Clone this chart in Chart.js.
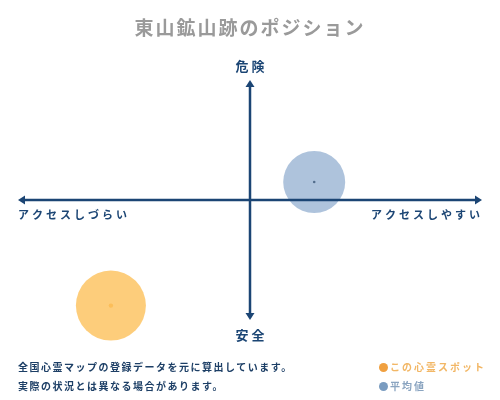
<!DOCTYPE html>
<html>
<head>
<meta charset="utf-8">
<script src="https://cdn.jsdelivr.net/npm/chart.js@4"></script>
<style>
  body { margin: 0; background: #fff; }
  #wrap { position: relative; width: 500px; height: 400px; font-family: "Noto Sans CJK JP", sans-serif; }
  #note { position: absolute; left: 18px; top: 357px; font-size: 10px; font-weight: bold; color: #1d3f66; line-height: 19px; letter-spacing: 1.5px; }
  #legend { position: absolute; left: 379px; top: 357px; font-size: 10px; font-weight: bold; line-height: 19px; letter-spacing: 2px; }
  #legend span.dot { display: inline-block; width: 9px; height: 9px; border-radius: 50%; vertical-align: -1px; margin-right: 2px; }
</style>
</head>
<body>
<div id="wrap">
  <canvas id="chart" width="500" height="400"></canvas>
  <div id="note">全国心霊マップの登録データを元に算出しています。<br>実際の状況とは異なる場合があります。</div>
  <div id="legend">
    <div style="color:#f2b766"><span class="dot" style="background:#f0a040"></span>この心霊スポット</div>
    <div style="color:#8aa4c0"><span class="dot" style="background:#7a9cc0"></span>平均値</div>
  </div>
</div>
<script>
var titleText = '東山鉱山跡のポジション';
var axisLabels = { top: '危 険', bottom: '安 全', left: 'アクセスしづらい', right: 'アクセスしやすい' };

// access (x) / danger (y), -100..100
var spotX = [-65];
var spotY = [-88];
var spotR = [35];
var avgX = [30];
var avgY = [15];
var avgR = [31];

var navy = '#1b4574';

var axisPlugin = {
  id: 'axisArrows',
  afterDatasetsDraw: function(chart) {
    var ctx = chart.ctx;
    var a = chart.chartArea;
    var cx = chart.scales.x.getPixelForValue(0);
    var cy = chart.scales.y.getPixelForValue(0);
    var l = a.left - 18, r = a.right + 18;
    ctx.save();
    ctx.strokeStyle = navy;
    ctx.fillStyle = navy;
    ctx.lineWidth = 2.5;
    ctx.beginPath();
    ctx.moveTo(l + 4, cy); ctx.lineTo(r - 4, cy);
    ctx.moveTo(cx, a.top + 4); ctx.lineTo(cx, a.bottom - 4);
    ctx.stroke();
    function tri(x1, y1, x2, y2, x3, y3) {
      ctx.beginPath(); ctx.moveTo(x1, y1); ctx.lineTo(x2, y2); ctx.lineTo(x3, y3); ctx.closePath(); ctx.fill();
    }
    tri(l, cy, l + 7, cy - 4.5, l + 7, cy + 4.5);
    tri(r, cy, r - 7, cy - 4.5, r - 7, cy + 4.5);
    tri(cx, a.top, cx - 4.5, a.top + 7, cx + 4.5, a.top + 7);
    tri(cx, a.bottom, cx - 4.5, a.bottom - 7, cx + 4.5, a.bottom - 7);

    ctx.textBaseline = 'middle';
    ctx.font = 'bold 13px "Noto Sans CJK JP"';
    ctx.textAlign = 'center';
    ctx.fillText(axisLabels.top, cx, a.top - 14);
    ctx.fillText(axisLabels.bottom, cx, a.bottom + 15);
    ctx.font = 'bold 11px "Noto Sans CJK JP"';
    ctx.letterSpacing = '3px';
    ctx.textAlign = 'left';
    ctx.fillText(axisLabels.left, l, cy + 15);
    ctx.textAlign = 'right';
    ctx.fillText(axisLabels.right, r + 1, cy + 15);
    ctx.letterSpacing = '2px';
    ctx.fillStyle = '#9a9a9a';
    ctx.textAlign = 'center';
    ctx.font = 'bold 19px "Noto Sans CJK JP"';
    ctx.fillText(titleText, 250, 28);
    ctx.restore();
  }
};

function pts(xs, ys, rs, dot) {
  return xs.map(function(x, i) { return { x: x, y: ys[i], r: rs ? rs[i] : dot }; });
}

var chart = new Chart(document.getElementById('chart'), {
  type: 'bubble',
  data: {
    datasets: [
      { data: pts(avgX, avgY, avgR), backgroundColor: 'rgba(120,155,196,0.6)', borderWidth: 0, clip: false },
      { data: pts(avgX, avgY, null, 1.3), backgroundColor: '#1b2a3a', borderWidth: 0, clip: false },
      { data: pts(spotX, spotY, spotR), backgroundColor: 'rgba(253,196,100,0.85)', borderWidth: 0, clip: false },
      { data: pts(spotX, spotY, null, 2.2), backgroundColor: '#f39a1e', borderWidth: 0, clip: false }
    ]
  },
  options: {
    responsive: false,
    animation: false,
    layout: { padding: { left: 36, right: 36, top: 80, bottom: 80 } },
    scales: {
      x: { display: false, min: -100, max: 100 },
      y: { display: false, min: -100, max: 100 }
    },
    plugins: { legend: { display: false }, tooltip: { enabled: false } }
  },
  plugins: [axisPlugin]
});
</script>
</body>
</html>
